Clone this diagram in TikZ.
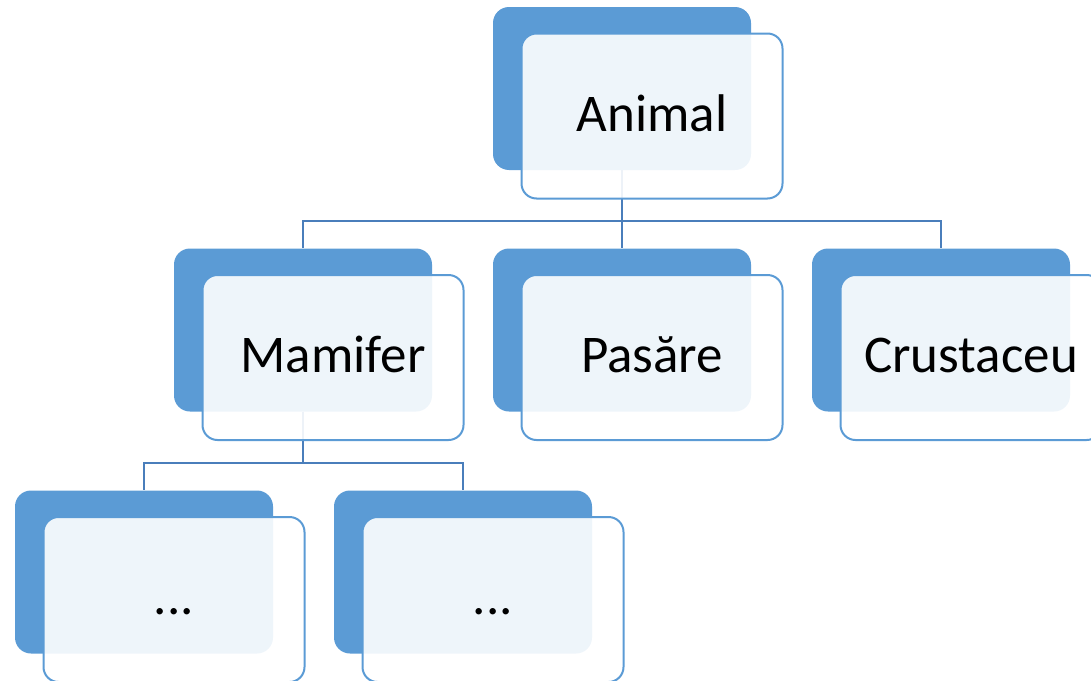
\documentclass[tikz,border=0pt]{standalone}
\usepackage{fontspec}
\setmainfont{Carlito}
\usetikzlibrary{calc}
\definecolor{accent}{HTML}{5B9BD5}
\definecolor{linkblue}{HTML}{4A7EBB}
\tikzset{
  backbox/.style={rectangle, rounded corners=16pt, fill=accent, draw=none,
    minimum width=258pt, minimum height=163pt, inner sep=0pt},
  frontbox/.style={rectangle, rounded corners=15pt, draw=accent, line width=2pt,
    fill=white, fill opacity=0.9, text opacity=1,
    minimum width=261pt, minimum height=165pt, inner sep=0pt,
    font=\fontsize{53}{60}\selectfont, text height=30pt, text depth=0pt},
  link/.style={draw=linkblue, line width=2.4pt}
}
\begin{document}
\begin{tikzpicture}[x=1pt, y=-1pt]
\useasboundingbox (0,0) rectangle (1091,680);
\clip (0,0) rectangle (1091,680);

% back panels
\node[backbox] (animalB)  at (622,88.5) {};
\node[backbox] (mamiferB) at (303,330) {};
\node[backbox] (pasareB)  at (622,330) {};
\node[backbox] (crustB)   at (941,330) {};
\node[backbox] (leafAB)   at (144,572) {};
\node[backbox] (leafBB)   at (463,572) {};

% connectors, behind the front panels
\coordinate (busTop) at (622,221);
\coordinate (busMam) at (303,463);
\draw[link] (animalB.south) -- (busTop) -| (mamiferB.north);
\draw[link] (busTop) -| (crustB.north);
\draw[link] (busTop) -- (pasareB.north);
\draw[link] (mamiferB.south) -- (busMam) -| (leafAB.north);
\draw[link] (busMam) -| (leafBB.north);

% front panels with labels
\node[frontbox] (animal)  at ($(animalB)+(30,27.5)$)  {Animal};
\node[frontbox] (mamifer) at ($(mamiferB)+(30,27.5)$) {Mamifer};
\node[frontbox] (pasare)  at ($(pasareB)+(30,27.5)$)  {Pasăre};
\node[frontbox] (crust)   at ($(crustB)+(30,27.5)$)   {Crustaceu};
\node[frontbox] (leafA)   at ($(leafAB)+(30,27.5)$)   {...};
\node[frontbox] (leafB)   at ($(leafBB)+(30,27.5)$)   {...};
\end{tikzpicture}
\end{document}
